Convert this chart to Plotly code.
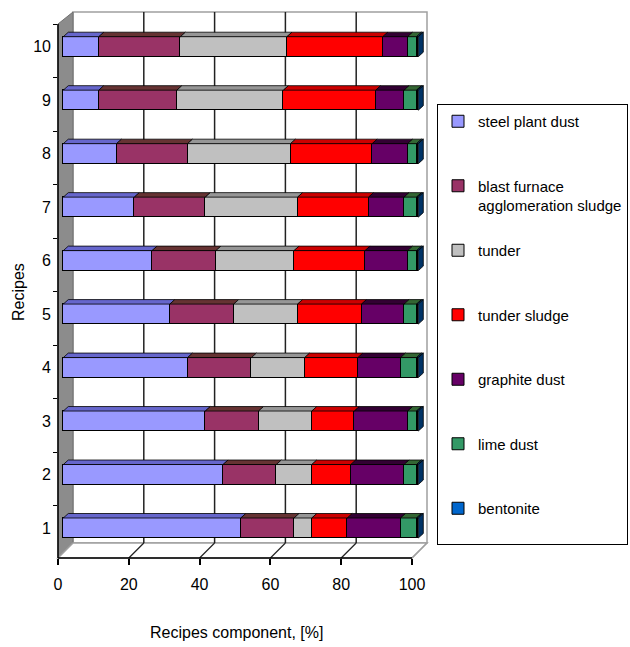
import plotly.graph_objects as go

# Recipe composition, % of each component
recipes = [1, 2, 3, 4, 5, 6, 7, 8, 9, 10]
steel_plant_dust = [50, 45, 40, 35, 30, 25, 20, 15, 10, 10]
blast_furnace_sludge = [15, 15, 15, 18, 18, 18, 20, 20, 22, 23]
tunder = [5, 10, 15, 15, 18, 22, 26, 29, 30, 30]
tunder_sludge = [10, 11, 12, 15, 18, 20, 20, 23, 26, 27]
graphite_dust = [15, 15, 15, 12, 12, 12, 10, 10, 8, 7]
lime_dust = [4.5, 3.5, 2.5, 4.5, 3.5, 2.5, 3.5, 2.5, 3.5, 2.5]
bentonite = [0.5, 0.5, 0.5, 0.5, 0.5, 0.5, 0.5, 0.5, 0.5, 0.5]

x_ticks = [0, 20, 40, 60, 80, 100]

# legend entries all take two text lines so they are evenly spaced
series = [
    ("steel plant dust<br>\u00a0", steel_plant_dust, "#9999FF", "#6666CC"),
    ("blast furnace<br>agglomeration sludge", blast_furnace_sludge, "#993366", "#663333"),
    ("tunder<br>\u00a0", tunder, "#C0C0C0", "#969696"),
    ("tunder sludge<br>\u00a0", tunder_sludge, "#FF0000", "#CC0000"),
    ("graphite dust<br>\u00a0", graphite_dust, "#660066", "#330033"),
    ("lime dust<br>\u00a0", lime_dust, "#339966", "#336633"),
    ("bentonite<br>\u00a0", bentonite, "#0066CC", "#003366"),
]

W, H = 630, 647
# plot area in pixels
L, R, T, B = 58, 427, 12, 558
FONT = "Liberation Sans, Arial, sans-serif"

# bar (front face) scale: 0 -> 63.3px, 100 -> 418.3px
PX_PER_PCT = 3.55
X0_PX = 63.3
x_range = [(L - X0_PX) / PX_PER_PCT, (R - X0_PX) / PX_PER_PCT]
# category scale: recipe 1 at 528px, recipe 10 at 46.7px
PX_PER_CAT = (528 - 46.7) / 9
y_range = [1 - (B - 528) / PX_PER_CAT, 10 + (46.7 - T) / PX_PER_CAT]

# floor-front scale used for the tick labels: 0 -> 58px, 100 -> 412px
PX_PER_PCT2 = (412 - 58) / 100
x2_range = [0, (R - L) / PX_PER_PCT2]

BAR_WIDTH = 20 / PX_PER_CAT
DX = 5 / PX_PER_PCT          # depth offset of the bar boxes
DY = 4.5 / PX_PER_CAT
BACK = 15 / PX_PER_PCT2      # depth of the back wall along the x scale


def px(xp):
    return (xp - L) / (R - L)


def py(yp):
    return (B - yp) / (B - T)


fig = go.Figure()
for name, vals, col, _ in series:
    fig.add_trace(go.Bar(
        y=recipes, x=vals, name=name, orientation="h",
        width=BAR_WIDTH, legendgroup=name,
        marker=dict(color=col, line=dict(color="black", width=1)),
    ))

shapes = []
# back wall, side wall and floor of the 3D box
shapes.append(dict(type="path", xref="paper", yref="paper", layer="below",
                   path=f"M{px(73)},{py(12)} L{px(427)},{py(12)} L{px(427)},{py(543)} L{px(73)},{py(543)} Z",
                   fillcolor="white", line=dict(color="#A0A0A0", width=1.5)))
shapes.append(dict(type="path", xref="paper", yref="paper", layer="below",
                   path=f"M{px(58)},{py(24)} L{px(73)},{py(12)} L{px(73)},{py(543)} L{px(58)},{py(558)} Z",
                   fillcolor="#8C8C8C", line=dict(color="#707070", width=1)))
shapes.append(dict(type="path", xref="paper", yref="paper", layer="below",
                   path=f"M{px(58)},{py(558)} L{px(73)},{py(543)} L{px(427)},{py(543)} L{px(412)},{py(558)} Z",
                   fillcolor="white", line=dict(color="#A0A0A0", width=1.5)))
# gridlines on the back wall and across the floor
for t in x_ticks[1:-1]:
    shapes.append(dict(type="line", xref="x2", yref="paper", layer="below",
                       x0=t + BACK, x1=t + BACK, y0=py(543), y1=py(12),
                       line=dict(color="#222222", width=1.5)))
for t in x_ticks[1:]:
    shapes.append(dict(type="line", xref="x2", yref="paper", layer="below",
                       x0=t + BACK, x1=t, y0=py(543), y1=py(558),
                       line=dict(color="#222222" if t < 100 else "#A0A0A0", width=1.2)))
# front edges of the wall and floor
shapes.append(dict(type="line", xref="paper", yref="paper",
                   x0=px(58), x1=px(58), y0=py(24), y1=py(558),
                   line=dict(color="black", width=1.5)))
shapes.append(dict(type="line", xref="paper", yref="paper",
                   x0=px(58), x1=px(412), y0=py(558), y1=py(558),
                   line=dict(color="black", width=1.5)))

# top faces and right side face of each stacked bar
for i, r in enumerate(recipes):
    start = 0.0
    for name, vals, col, dark in series:
        end = start + vals[i]
        y0 = r + BAR_WIDTH / 2
        y1 = y0 + DY
        shapes.append(dict(type="path", xref="x", yref="y",
                           path=f"M{start},{y0} L{end},{y0} L{end + DX},{y1} L{start + DX},{y1} Z",
                           fillcolor=dark, line=dict(color="black", width=0.8)))
        start = end
    dark_end = series[-1][3]
    ya, yb = r - BAR_WIDTH / 2, r + BAR_WIDTH / 2
    shapes.append(dict(type="path", xref="x", yref="y",
                       path=f"M{start},{ya} L{start},{yb} L{start + DX},{yb + DY} L{start + DX},{ya + DY} Z",
                       fillcolor=dark_end, line=dict(color="black", width=0.8)))

fig.update_layout(
    width=W, height=H,
    margin=dict(l=L, r=W - R, t=T, b=H - B, autoexpand=False),
    paper_bgcolor="white", plot_bgcolor="rgba(0,0,0,0)",
    barmode="stack", bargap=0,
    font=dict(family=FONT, color="black", size=15),
    xaxis=dict(range=x_range, visible=False, fixedrange=True),
    xaxis2=dict(range=x2_range, overlaying="x", anchor="y", side="bottom",
                tickvals=x_ticks, ticks="outside", ticklen=6, tickcolor="black",
                tickwidth=1.5, showgrid=False, zeroline=False, showline=False,
                tickfont=dict(size=16), ticklabelstandoff=6),
    yaxis=dict(range=y_range, tickvals=recipes, ticks="", showgrid=False,
               zeroline=False, showline=False, tickfont=dict(size=16),
               ticklabelstandoff=6,
               minor=dict(tickvals=[k + 0.5 - DY for k in range(0, 11)],
                          ticks="outside", ticklen=4, tickcolor="black",
                          tickwidth=1.2)),
    legend=dict(x=px(437), xanchor="left", y=py(104), yanchor="top",
                bordercolor="black", borderwidth=1, bgcolor="white",
                traceorder="grouped", tracegroupgap=22.5, valign="top",
                font=dict(size=15)),
    shapes=shapes,
    annotations=[
        dict(text="Recipes component, [%]", xref="paper", yref="paper",
             x=px(236), y=py(632), xanchor="center", yanchor="middle",
             showarrow=False, font=dict(size=16)),
        dict(text="Recipes", xref="paper", yref="paper", textangle=-90,
             x=px(18), y=py(292), xanchor="center", yanchor="middle",
             showarrow=False, font=dict(size=16)),
    ],
)
# attach the tick-label axis
fig.add_trace(go.Scatter(x=[], y=[], xaxis="x2", showlegend=False, hoverinfo="skip"))

fig.write_html("out.html")
